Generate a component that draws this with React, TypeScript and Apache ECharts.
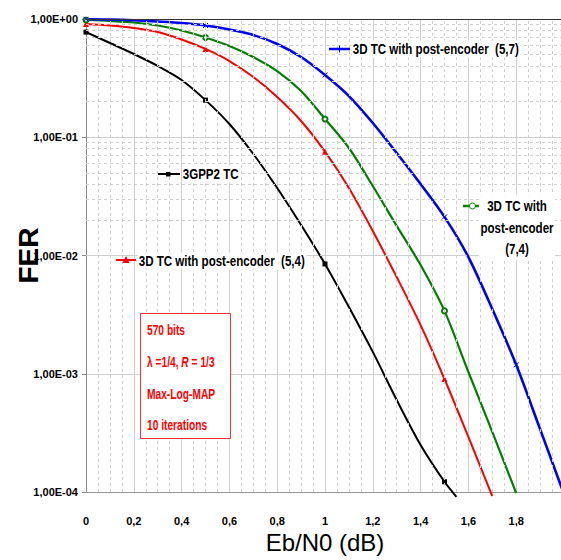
import React, { useEffect, useRef } from "react";
import * as echarts from "echarts";

// ---- data ----
const ebn0Black = [0, 0.1, 0.2, 0.3, 0.4, 0.5, 0.6, 0.7, 0.8, 0.9, 1.0, 1.1, 1.2, 1.3, 1.4, 1.5, 1.55];
const ferBlack = [0.775, 0.627, 0.506, 0.401, 0.305, 0.206, 0.1294, 0.0722, 0.0372, 0.0181, 0.00848, 0.00367, 0.00153, 6.0e-4, 2.5e-4, 1.22e-4, 9.1e-5];
const markBlack = [0, 0.5, 1.0, 1.5];

const ebn0Red = [0, 0.1, 0.2, 0.3, 0.4, 0.5, 0.6, 0.7, 0.8, 0.9, 1.0, 1.1, 1.2, 1.3, 1.4, 1.5, 1.6, 1.7];
const ferRed = [0.907, 0.881, 0.839, 0.776, 0.671, 0.558, 0.441, 0.323, 0.219, 0.1372, 0.0755, 0.0372, 0.0161, 0.00657, 0.00258, 9.03e-4, 2.92e-4, 9.25e-5];
const markRed = [0, 0.5, 1.0, 1.5];

const ebn0Green = [0, 0.1, 0.2, 0.3, 0.4, 0.5, 0.6, 0.7, 0.8, 0.9, 1.0, 1.1, 1.2, 1.3, 1.4, 1.5, 1.6, 1.7, 1.8];
const ferGreen = [0.981, 0.962, 0.934, 0.881, 0.799, 0.698, 0.591, 0.477, 0.363, 0.246, 0.1427, 0.0811, 0.0387, 0.0178, 0.00831, 0.0034, 1.035e-3, 3.22e-4, 9.8e-5];
const markGreen = [0, 0.5, 1.0, 1.5];

const ebn0Blue = [0, 0.1, 0.2, 0.3, 0.4, 0.5, 0.6, 0.7, 0.8, 0.9, 1.0, 1.1, 1.2, 1.3, 1.4, 1.5, 1.6, 1.7, 1.8, 1.9, 2.0];
const ferBlue = [0.995, 0.99, 0.975, 0.952, 0.925, 0.881, 0.815, 0.732, 0.615, 0.477, 0.336, 0.223, 0.132, 0.0736, 0.0402, 0.0212, 0.0097, 0.00353, 0.00119, 3.4e-4, 9.6e-5];
const markBlue = [0, 0.5, 1.0, 1.5, 1.8];

const seriesNames = [
  "3GPP2 TC",
  "3D TC with post-encoder  (5,4)",
  "3D TC with post-encoder  (7,4)",
  "3D TC with post-encoder  (5,7)",
];

const xTickLabels = ["0", "0,2", "0,4", "0,6", "0,8", "1", "1,2", "1,4", "1,6", "1,8", ""];
const yTickLabels = ["1,00E-04", "1,00E-03", "1,00E-02", "1,00E-01", "1,00E+00"];
const decades = [1e-4, 1e-3, 1e-2, 1e-1];
const minorMultipliers = [2, 3, 4, 5, 6, 7, 8, 9];
const xMinorSteps = [0.05, 0.1, 0.15];
const xMajorSteps = [0, 0.2, 0.4, 0.6, 0.8, 1.0, 1.2, 1.4, 1.6, 1.8];

const noteLines = ["570 bits", "λ =1/4, R = 1/3", "Max-Log-MAP", "10 iterations"];

const ARIAL = "'Liberation Sans', Arial, sans-serif";

function buildData(xs: number[], ys: number[], marks: number[], symbol: string) {
  return xs.map((x, i) => {
    const isMark = marks.some((m) => Math.abs(m - x) < 1e-9);
    return { value: [x, ys[i]], symbol: isMark ? symbol : "none" };
  });
}

const BLUE_X = "path://M0,0L10,10M10,0L0,10";

export default function App() {
  const ref = useRef<HTMLDivElement>(null);

  useEffect(() => {
    if (!ref.current) return;
    const chart = echarts.init(ref.current, null, { renderer: "svg" });

    const minorH = decades.flatMap((d) => minorMultipliers.map((m) => ({ yAxis: m * d })));
    const minorV = xMajorSteps.flatMap((b) => xMinorSteps.map((s) => ({ xAxis: +(b + s).toFixed(2) })));

    const textBase = (t: string, x: number, y: number, size: number, color: string, scaleX: number, extra: any = {}) => ({
      type: "text",
      x,
      y,
      scaleX,
      z: 100,
      style: {
        text: t,
        fill: color,
        fontSize: size,
        fontWeight: "bold",
        fontFamily: ARIAL,
        align: "left",
        textAlign: "left",
        verticalAlign: "middle",
        textVerticalAlign: "middle",
        ...extra,
      },
    });

    const graphic: any[] = [
      // Blue legend (5,7)
      { type: "line", z: 100, shape: { x1: 329, y1: 49, x2: 350, y2: 49 }, style: { stroke: "#0000ff", lineWidth: 2.5 } },
      { type: "line", z: 101, shape: { x1: 339.5, y1: 45.5, x2: 339.5, y2: 52.5 }, style: { stroke: "#0000ff", lineWidth: 1 } },
      textBase(seriesNames[3], 352, 49, 15, "#000", 0.77, { backgroundColor: "#fff", padding: [1, 2, 1, 1] }),
      // Black legend
      { type: "line", z: 100, shape: { x1: 158, y1: 174, x2: 180, y2: 174 }, style: { stroke: "#000", lineWidth: 2 } },
      { type: "rect", z: 101, shape: { x: 166, y: 172, width: 4.5, height: 4.5 }, style: { fill: "#000" } },
      textBase(seriesNames[0], 182, 174, 15, "#000", 0.77, { backgroundColor: "#fff", padding: [1, 2, 1, 1] }),
      // Red legend
      { type: "line", z: 100, shape: { x1: 116, y1: 260, x2: 136, y2: 260 }, style: { stroke: "#ff0000", lineWidth: 2 } },
      { type: "polygon", z: 101, shape: { points: [[126, 256], [122.5, 263], [129.5, 263]] }, style: { fill: "#ff0000" } },
      textBase(seriesNames[1], 138, 261, 15, "#000", 0.77, { backgroundColor: "#fff", padding: [1, 2, 1, 1] }),
      // Green legend (multi-line)
      { type: "line", z: 100, shape: { x1: 463, y1: 206, x2: 484, y2: 206 }, style: { stroke: "#008000", lineWidth: 2.5 } },
      { type: "circle", z: 101, shape: { cx: 472.5, cy: 206, r: 3 }, style: { fill: "#fff", stroke: "#008000", lineWidth: 1 } },
      textBase("3D TC with\npost-encoder\n(7,4)", 517, 227.5, 15, "#000", 0.77, {
        align: "center",
        textAlign: "center",
        lineHeight: 21.5,
        backgroundColor: "#fff",
        padding: [0, 2, 0, 2],
      }),
      // Annotation box
      { type: "rect", z: 99, shape: { x: 140.5, y: 313.5, width: 90, height: 125 }, style: { fill: "#fff", stroke: "#ff3333", lineWidth: 1 } },
      textBase(noteLines[0], 147, 330, 14, "#ff0000", 0.73),
      textBase("{n|λ =1/4, }{i|R}{n| = 1/3}", 147, 362, 14, "#ff0000", 0.73, {
        rich: {
          n: { fontSize: 14, fontWeight: "bold", fontFamily: ARIAL, fill: "#ff0000", color: "#ff0000" },
          i: { fontSize: 14, fontWeight: "bold", fontStyle: "italic", fontFamily: ARIAL, fill: "#ff0000", color: "#ff0000" },
        },
      }),
      textBase(noteLines[2], 147, 394, 14, "#ff0000", 0.73),
      textBase(noteLines[3], 147, 425, 14, "#ff0000", 0.73),
    ];

    const lineSeries = (name: string, xs: number[], ys: number[], marks: number[], color: string, symbol: string, width: number, symbolSize: number, itemStyle: any) => ({
      name,
      type: "line",
      smooth: 0.3,
      clip: false,
      z: 3,
      showSymbol: true,
      showAllSymbol: true,
      symbol,
      symbolSize,
      lineStyle: { color, width },
      itemStyle,
      data: buildData(xs, ys, marks, symbol),
      emphasis: { disabled: true },
    });

    chart.setOption({
      animation: false,
      backgroundColor: "#fff",
      grid: { left: 86, top: 19, width: 478, height: 473, outerBoundsMode: "none", containLabel: false },
      xAxis: {
        type: "value",
        min: 0,
        max: 2,
        interval: 0.2,
        name: "Eb/N0 (dB)",
        nameLocation: "middle",
        nameGap: 38,
        nameMoveOverlap: false,
        nameTextStyle: { fontSize: 24, fontFamily: ARIAL, color: "#000" },
        axisLine: { show: true, onZero: false, lineStyle: { color: "#999", width: 1 } },
        axisTick: { show: false },
        axisLabel: {
          margin: 23,
          fontSize: 11,
          fontWeight: "bold",
          fontFamily: ARIAL,
          color: "#000",
          formatter: (_v: number, i: number) => xTickLabels[i] ?? "",
        },
        splitLine: { show: true, lineStyle: { color: "#cfcfcf", width: 1 } },
      },
      yAxis: {
        type: "log",
        logBase: 10,
        min: 1e-4,
        max: 1,
        name: "FER",
        nameLocation: "middle",
        nameRotate: 90,
        nameGap: 44,
        nameMoveOverlap: false,
        nameTextStyle: { fontSize: 28, fontWeight: "bold", fontFamily: ARIAL, color: "#000" },
        axisLine: { show: true, lineStyle: { color: "#888", width: 1 } },
        axisTick: { show: true, length: 4, lineStyle: { color: "#888" } },
        axisLabel: {
          margin: 8,
          fontSize: 11,
          fontWeight: "bold",
          fontFamily: ARIAL,
          color: "#000",
          formatter: (_v: number, i: number) => yTickLabels[i] ?? "",
        },
        splitLine: { show: true, lineStyle: { color: "#cfcfcf", width: 1 } },
      },
      series: [
        {
          name: "grid-minor",
          type: "line",
          data: [],
          z: 1,
          silent: true,
          markLine: {
            silent: true,
            symbol: ["none", "none"],
            label: { show: false },
            animation: false,
            lineStyle: { color: "#cfcfcf", width: 1, type: [3, 3] },
            emphasis: { disabled: true },
            data: [
              ...minorH,
              ...minorV,
              { yAxis: 1, lineStyle: { color: "#333", width: 1, type: "solid" } },
            ],
          },
        },
        lineSeries(seriesNames[0], ebn0Black, ferBlack, markBlack, "#000000", "rect", 2, 5, { color: "#000" }),
        lineSeries(seriesNames[1], ebn0Red, ferRed, markRed, "#ff0000", "triangle", 2, 6, { color: "#ff0000" }),
        lineSeries(seriesNames[2], ebn0Green, ferGreen, markGreen, "#008000", "emptyCircle", 2.2, 5, { color: "#008000", borderColor: "#008000", borderWidth: 1 }),
        lineSeries(seriesNames[3], ebn0Blue, ferBlue, markBlue, "#0000ff", BLUE_X, 2.6, 5, { color: "#0000ff", borderColor: "#0000ff", borderWidth: 1 }),
      ],
      graphic,
    });

    return () => chart.dispose();
  }, []);

  return <div ref={ref} style={{ position: "fixed", left: 0, top: 0, width: 561, height: 560 }} />;
}
